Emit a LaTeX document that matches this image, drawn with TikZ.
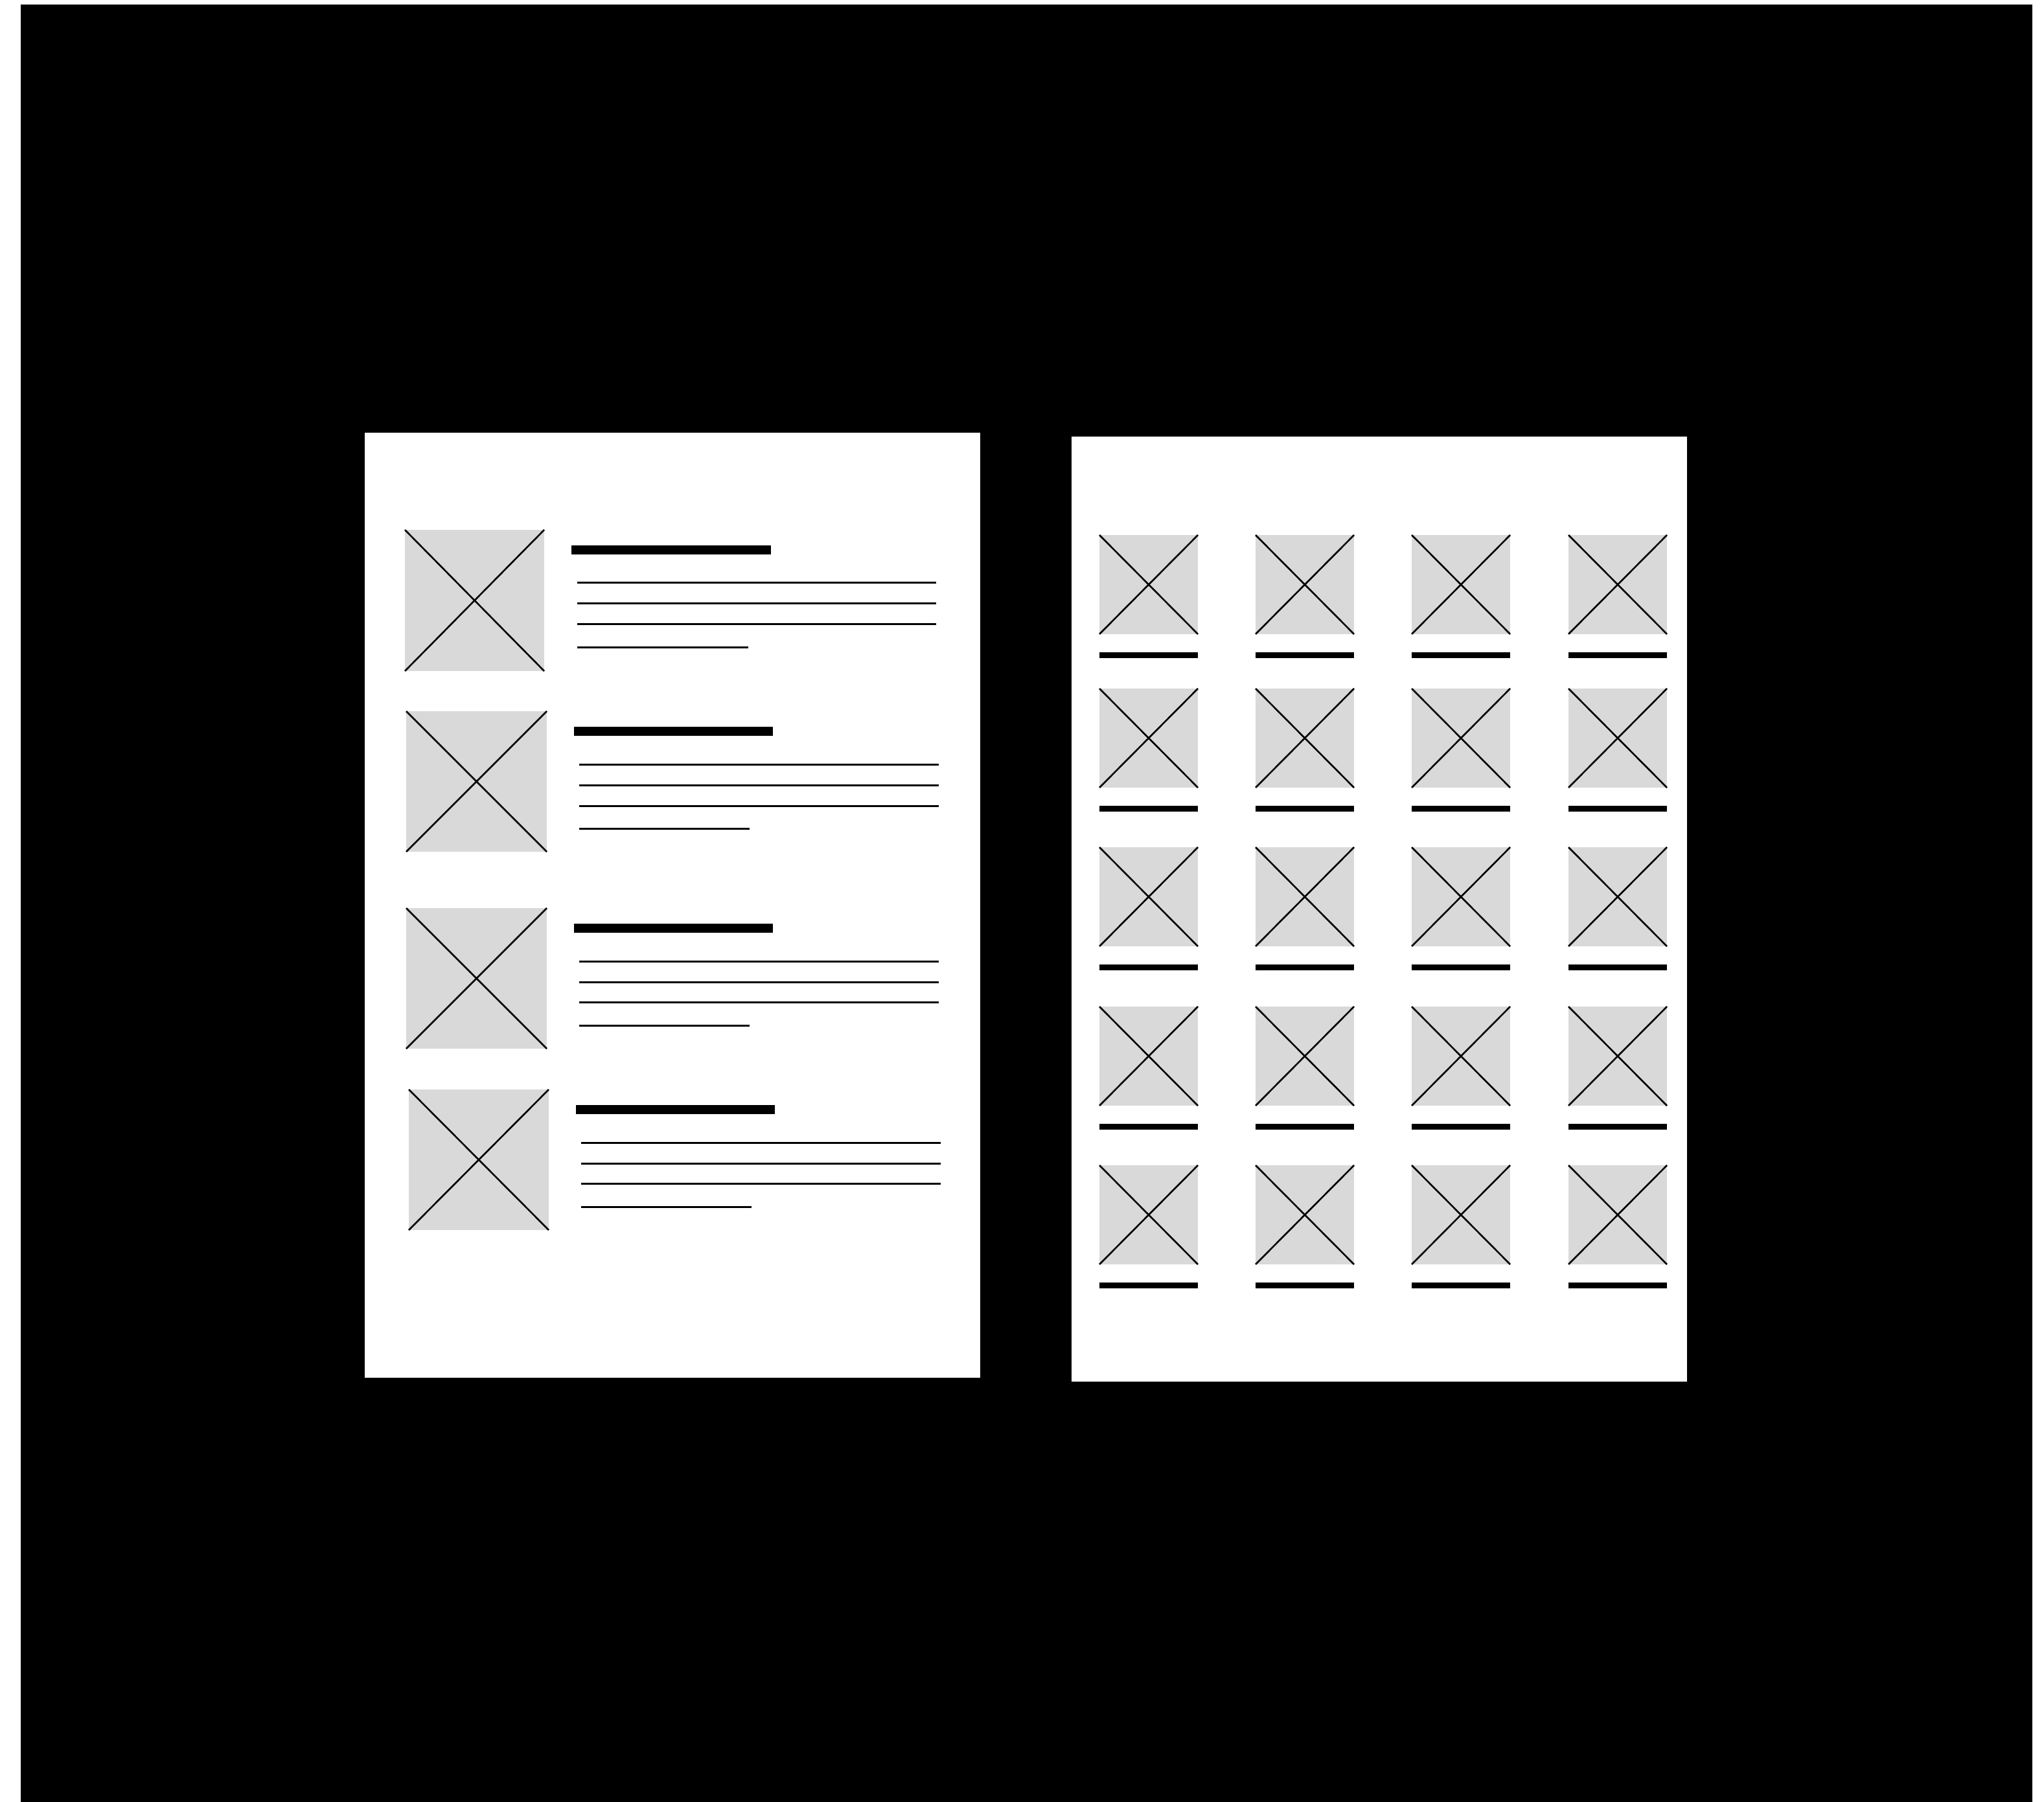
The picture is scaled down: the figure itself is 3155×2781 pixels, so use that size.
\documentclass[tikz,border=0pt]{standalone}
\begin{document}
\begin{tikzpicture}[x=0.25pt,y=-0.25pt,
  phfill/.style={fill=phgray},
  xline/.style={draw=black,line width=0.65pt},
  txtline/.style={draw=black,line width=0.75pt},
  barfill/.style={fill=black}]
\definecolor{phgray}{HTML}{D9D9D9}
\useasboundingbox (0,0) rectangle (3155,2781);
\fill[white] (0,0) rectangle (3155,2781);
% black background (runs off the bottom edge)
\fill[black] (32,7) rectangle (3137,2800);
% pages
\fill[white] (563,668) rectangle (1513,2127);
\fill[white] (1654,674) rectangle (2604,2133);
% left page items: image x0,y0,x1,y1 ; title x0,y0,x1 ; lines x0,x1,xs, y1..y4
\foreach \ix/\iy/\ixx/\iyy/\tx/\ty/\txx/\lx/\lxx/\lxs/\la/\lb/\lc/\ld in {
  625/818/840/1036/882/842/1190/891/1445/1155/899/931/963/999,
  627/1098/844/1315/886/1122/1193/894/1449/1157/1180/1212/1244/1279,
  627/1402/844/1619/886/1426/1193/894/1449/1157/1484/1516/1547/1583,
  631/1682/847/1899/889/1706/1196/897/1452/1160/1764/1796/1827/1863}{
  \fill[phfill] (\ix,\iy) rectangle (\ixx,\iyy);
  \draw[xline] (\ix,\iy) -- (\ixx,\iyy);
  \draw[xline] (\ix,\iyy) -- (\ixx,\iy);
  \fill[barfill] (\tx,\ty) rectangle (\txx,\ty+14);
  \draw[txtline] (\lx,\la) -- (\lxx,\la);
  \draw[txtline] (\lx,\lb) -- (\lxx,\lb);
  \draw[txtline] (\lx,\lc) -- (\lxx,\lc);
  \draw[txtline] (\lx,\ld) -- (\lxs,\ld);
}
% right page grid
\foreach \cx in {1697,1938,2179,2421}{
  \foreach \ry in {826,1063,1308,1554,1799}{
    \fill[phfill] (\cx,\ry) rectangle (\cx+152,\ry+153);
    \draw[xline] (\cx,\ry) -- (\cx+152,\ry+153);
    \draw[xline] (\cx,\ry+153) -- (\cx+152,\ry);
    \fill[barfill] (\cx,\ry+181) rectangle (\cx+152,\ry+190);
  }
}
\end{tikzpicture}
\end{document}
